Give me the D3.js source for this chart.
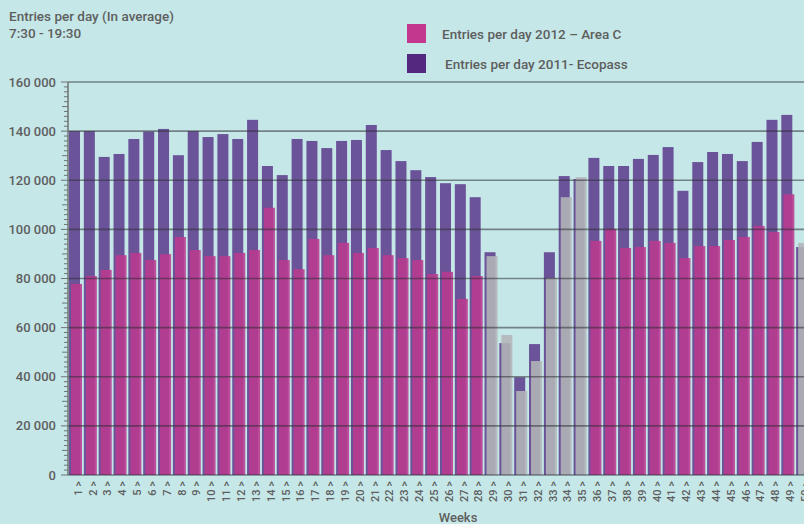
<!DOCTYPE html>
<html>
<head>
<meta charset="utf-8">
<script src="https://cdn.jsdelivr.net/npm/d3@7"></script>
<style>
  body { margin: 0; background: #c5e7e8; }
  svg { display: block; }
  text { font-family: Roboto, "DejaVu Sans", sans-serif; fill: #5e5e5e; }
</style>
</head>
<body>
<svg width="804" height="524"></svg>
<script>
// weeks 1..50, entries per day (average)
var weeks = d3.range(1, 51);
var ecopass2011 = [140000,140000,129500,130700,136800,139800,140900,130200,140000,137600,
                   138800,136800,144600,125800,122100,136800,136000,133100,136000,136400,
                   142500,132300,127800,124100,121300,118800,118400,113100,90700,53700,
                   39800,53300,90700,121700,120500,129100,125800,125800,128700,130300,
                   133500,115700,127400,131500,130700,127800,135600,144600,146600,92800];
var areaC2012 = [77800,81000,83500,89500,90400,87500,89900,96900,91600,89100,
                 89100,90400,91600,108800,87500,83800,96100,89500,94500,90400,
                 92400,89500,88300,87500,81800,82700,71700,81000,89100,57000,
                 34200,46400,80200,113100,121300,95300,100200,92400,92800,95300,
                 94500,88300,93200,93200,95700,96900,101400,98900,114300,94500];
// weeks where the 2012 bar is drawn grey
var greyWeeks = [29,30,31,32,33,34,35,50];
var yTicks = [0,20000,40000,60000,80000,100000,120000,140000,160000];
var legendLabels = ["Entries per day 2012 \u2013 Area C", "Entries per day 2011- Ecopass"];

var svg = d3.select("svg");
var x = d3.scaleBand().domain(d3.range(1, 53)).range([68.5, 68.5 + 52 * 14.84]).padding(0);
var y = d3.scaleLinear().domain([0, 160000]).range([475, 82]);
var bw = 11;

svg.append("g").selectAll("rect").data(weeks).join("rect")
  .attr("x", function(d){ return x(d) + 0.5; })
  .attr("y", function(d, i){ return y(ecopass2011[i]); })
  .attr("width", bw)
  .attr("height", function(d, i){ return y(0) - y(ecopass2011[i]); })
  .attr("fill", "#6b5399");

svg.append("g").selectAll("rect").data(weeks).join("rect")
  .attr("x", function(d){ return x(d) + 2.5; })
  .attr("y", function(d, i){ return y(areaC2012[i]); })
  .attr("width", bw)
  .attr("height", function(d, i){ return y(0) - y(areaC2012[i]); })
  .attr("fill", function(d){ return greyWeeks.indexOf(d) >= 0 ? "#b3b6b8" : "#bb3a8f"; })
  .attr("fill-opacity", 0.88);

// grid lines on top of bars
svg.append("g").selectAll("line").data(yTicks).join("line")
  .attr("x1", 68).attr("x2", 804)
  .attr("y1", function(d){ return y(d); }).attr("y2", function(d){ return y(d); })
  .attr("stroke", "#2e2f33").attr("stroke-opacity", 0.55).attr("stroke-width", 1.6);

// y axis with minor ticks
var minor = d3.range(0, 160001, 2000);
svg.append("g").selectAll("line").data(minor).join("line")
  .attr("x1", function(d){ return d % 20000 == 0 ? 61 : (d % 10000 == 0 ? 62 : 64); })
  .attr("x2", 68)
  .attr("y1", function(d){ return y(d); }).attr("y2", function(d){ return y(d); })
  .attr("stroke", "#6e7373").attr("stroke-width", 1);
svg.append("line").attr("x1", 68).attr("x2", 68).attr("y1", 82).attr("y2", 475)
  .attr("stroke", "#6e7373").attr("stroke-width", 1.5);

var fmt = function(d){ return d3.format(",")(d).replace(/,/g, " "); };
svg.append("g").selectAll("text").data(yTicks).join("text")
  .attr("x", 56).attr("y", function(d){ return y(d); })
  .attr("dy", "0.35em").attr("text-anchor", "end")
  .attr("font-size", 13).attr("font-weight", 500)
  .text(fmt);

// x labels, rotated
svg.append("g").selectAll("text").data(weeks).join("text")
  .attr("transform", function(d){ return "translate(" + (x(d) + x.bandwidth() / 2 + 2) + ",481) rotate(-90)"; })
  .attr("dy", "0.35em").attr("text-anchor", "end")
  .attr("font-size", 11).attr("font-weight", 500)
  .text(function(d){ return d + " >"; });

svg.append("text").attr("x", 458).attr("y", 522).attr("text-anchor", "middle")
  .attr("font-size", 13).attr("font-weight", 500).text("Weeks");

// titles
svg.append("text").attr("x", 9).attr("y", 21).attr("font-size", 13.5).attr("font-weight", 500)
  .text("Entries per day (In average)");
svg.append("text").attr("x", 9).attr("y", 38).attr("font-size", 13.5).attr("font-weight", 500)
  .text("7:30 - 19:30");

// legend
var legendColors = ["#c4378e", "#55287f"];
var lg = svg.append("g").selectAll("g").data(legendLabels).join("g")
  .attr("transform", function(d, i){ return "translate(407," + (24 + i * 30) + ")"; });
lg.append("rect").attr("width", 19).attr("height", 19)
  .attr("fill", function(d, i){ return legendColors[i]; });
lg.append("text").attr("x", function(d, i){ return i == 0 ? 35 : 38; }).attr("y", 10)
  .attr("dy", "0.35em").attr("font-size", 13.5).attr("font-weight", 500)
  .text(function(d){ return d; });
</script>
</body>
</html>
